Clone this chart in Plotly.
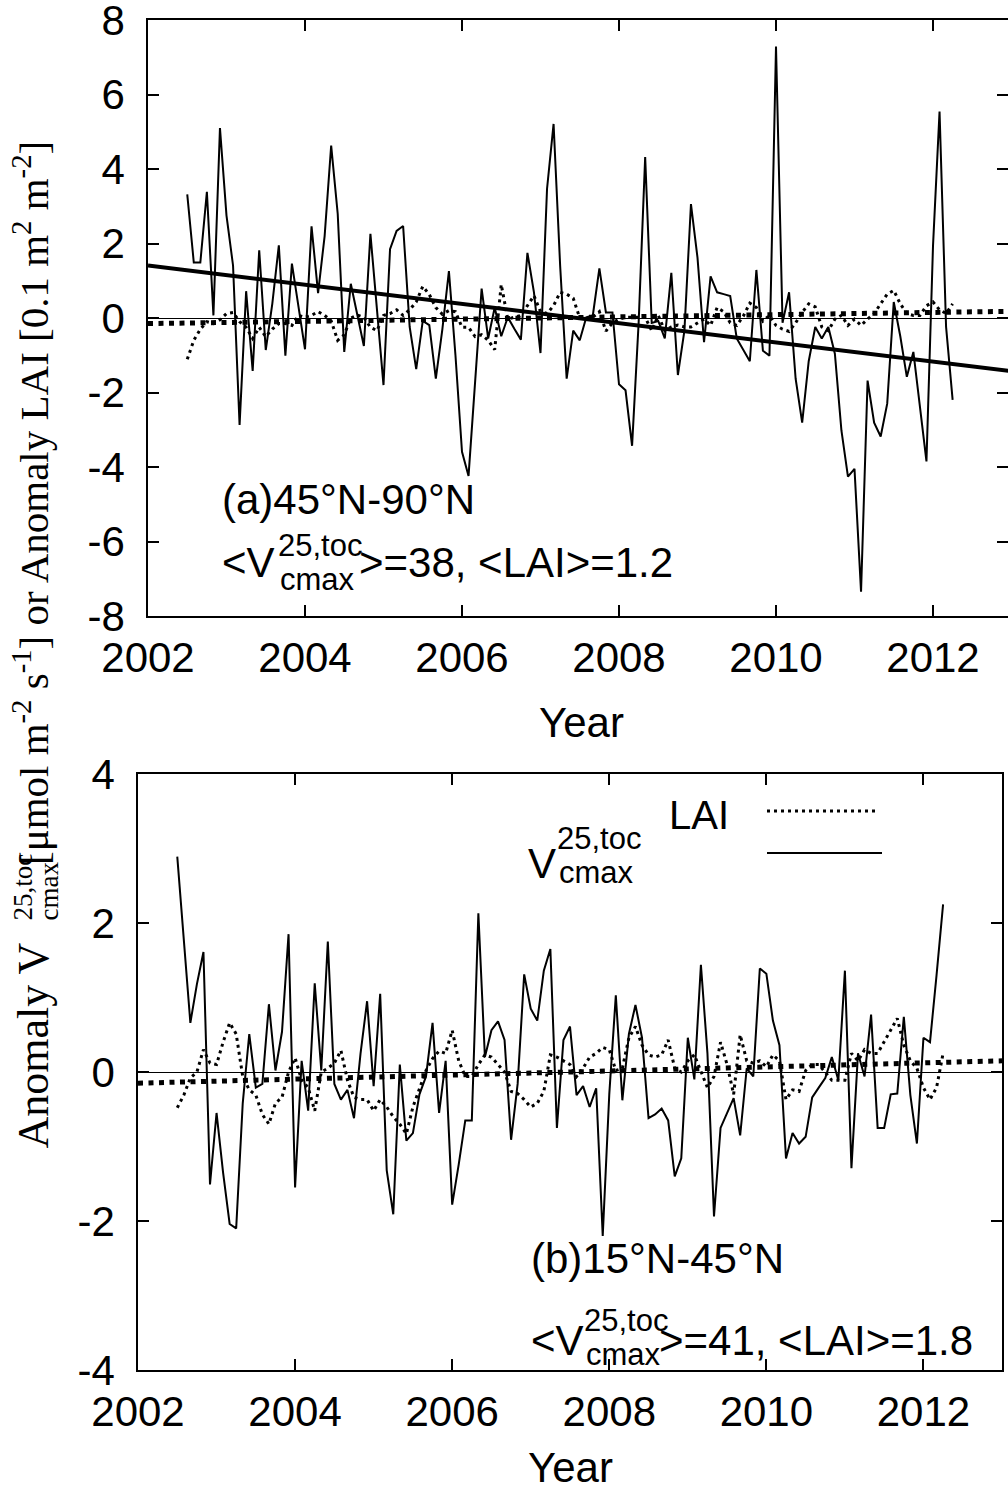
import plotly.graph_objects as go
import pandas as pd

# ---------------- data ----------------
months = pd.period_range("2002-07", "2012-04", freq="M")
t = [p.year + (p.month - 1) / 12 for p in months]

vc_a = [3.32, 1.49, 1.49, 3.39, 0.07, 5.10, 2.75, 1.41, -2.87, 0.72,
        -1.42, 1.82, -0.86, 0.38, 1.95, -1.01, 1.46, 0.28, -0.84, 2.46,
        0.67, 2.2, 4.63, 2.8, -0.91, 0.92, 0.07, -0.75, 2.26, 0.2,
        -1.80, 1.85, 2.34, 2.47, -0.24, -1.37, -0.08, -0.19, -1.63, -0.3,
        1.26, -1.0, -3.59, -4.24, -1.78, 0.79, -0.55, 0.28, -0.49, 0.02,
        -0.29, -0.58, 1.75, 0.69, -0.94, 3.47, 5.21, 1.41, -1.63, -0.34,
        -0.6, 0.02, 0.07, 1.33, 0.15, 0.15, -1.78, -1.94, -3.43, -0.13,
        4.32, -0.13, -0.08, -0.55, 1.21, -1.53, -0.34, 3.06, 1.62, -0.65,
        1.12, 0.69, 0.64, 0.59, -0.55, -0.86, -1.16, 1.29, -0.88, -1.01,
        7.29, -0.13, 0.69, -1.63, -2.81, -1.16, -0.24, -0.55, -0.24, -0.96,
        -3.02, -4.26, -4.05, -7.35, -1.68, -2.81, -3.18, -2.3, 0.43, -0.49,
        -1.58, -0.91, -2.40, -3.85, 1.93, 5.54, -0.24, -2.2]

lai_a = [-1.11, -0.6, -0.3, -0.1, -0.15, -0.05, 0.12, 0.15, -0.1, -0.25,
         -0.55, -0.25, -0.5, -0.3, -0.15, -0.15, -0.2, 0.07, 0.02, 0.07,
         0.17, 0.07, -0.08, -0.6, -0.45, 0.0, 0.08, 0.02, -0.25, -0.34,
         0.07, 0.12, 0.22, 0.07, 0.22, 0.43, 0.85, 0.63, 0.28, 0.1,
         0.2, 0.17, -0.25, -0.25, -0.5, -0.45, -0.6, -0.85, 0.9, -0.03,
         0.02, 0.07, 0.33, 0.6, 0.17, 0.12, 0.33, 0.69, 0.64, 0.53,
         0.0, -0.03, 0.02, 0.17, -0.35, -0.13, -0.03, 0.02, 0.02, 0.02,
         0.02, -0.34, 0.07, -0.34, -0.24, -0.19, -0.24, -0.24, -0.13, -0.03,
         -0.2, 0.28, 0.17, -0.13, -0.2, 0.05, 0.4, 0.28, -0.08, 0.07,
         -0.2, -0.3, -0.36, -0.13, 0.15, 0.38, 0.3, -0.24, -0.34, -0.03,
         0.07, -0.2, -0.03, -0.2, -0.03, 0.12, 0.38, 0.64, 0.74, 0.38,
         0.12, 0.07, 0.07, 0.33, 0.43, 0.22, 0.12, 0.38]

vc_b = [2.89, 1.8, 0.66, 1.18, 1.61, -1.51, -0.55, -1.35, -2.04, -2.1,
        -0.42, 0.51, -0.21, -0.16, 0.91, 0.02, 0.54, 1.85, -1.55, 0.15,
        -0.52, 1.19, 0.02, 1.75, -0.16, -0.37, -0.24, -0.62, 0.25, 0.95,
        -0.19, 1.05, -1.32, -1.91, 0.1, -0.92, -0.82, -0.3, -0.06, 0.66,
        -0.55, 0.15, -1.78, -1.24, -0.65, -0.65, 2.13, 0.2, 0.56, 0.68,
        0.43, -0.91, -0.16, 1.31, 0.85, 0.69, 1.36, 1.65, -0.75, 0.43,
        0.61, -0.31, -0.19, -0.47, -0.22, -2.2, -0.3, 1.03, -0.38, 0.51,
        0.9, 0.46, -0.62, -0.57, -0.49, -0.65, -1.4, -1.16, 0.46, -0.1,
        1.44, 0.25, -1.94, -0.75, -0.55, -0.35, -0.85, 0.05, -0.06, 1.39,
        1.32, 0.69, 0.36, -1.16, -0.82, -0.96, -0.87, -0.34, -0.21, -0.08,
        0.2, -0.11, 1.36, -1.29, 0.25, -0.06, 0.77, -0.75, -0.75, -0.3,
        -0.29, 0.74, -0.31, -0.96, 0.46, 0.4, 1.3, 2.25]

lai_b = [-0.48, -0.31, -0.08, 0.0, 0.3, 0.12, 0.1, 0.4, 0.66, 0.51,
         -0.06, -0.24, -0.31, -0.57, -0.7, -0.42, -0.34, 0.0, 0.19, -0.11,
         -0.21, -0.52, 0.0, 0.05, 0.12, 0.29, -0.11, -0.34, -0.37, -0.37,
         -0.52, -0.37, -0.47, -0.6, -0.7, -0.83, -0.47, -0.21, 0.02, 0.18,
         0.28, 0.25, 0.56, 0.15, -0.06, -0.06, 0.1, 0.23, 0.2, 0.1,
         0.0, -0.26, -0.29, -0.37, -0.47, -0.42, -0.26, 0.23, 0.2, 0.15,
         0.1, -0.06, 0.05, 0.2, 0.25, 0.33, 0.3, 0.02, 0.05, 0.46,
         0.61, 0.36, 0.23, 0.2, 0.23, 0.43, 0.05, 0.0, 0.15, 0.23,
         0.02, -0.21, -0.06, 0.4, 0.1, -0.3, 0.5, 0.15, 0.12, 0.15,
         0.07, 0.23, 0.15, -0.37, -0.24, -0.26, 0.02, 0.1, 0.1, 0.0,
         -0.11, -0.11, -0.11, 0.25, 0.15, 0.3, 0.25, 0.25, 0.41, 0.56,
         0.72, 0.36, 0.15, 0.05, -0.21, -0.37, -0.21, 0.25]

trend_x = [2002, 2013]
trend_vc_a = [1.41, -1.43]
trend_lai_a = [-0.15, 0.18]
trend_lai_b = [-0.15, 0.15]

x_ticks = [2002, 2004, 2006, 2008, 2010, 2012]
y_ticks_a = [-8, -6, -4, -2, 0, 2, 4, 6, 8]
y_ticks_b = [-4, -2, 0, 2, 4]

# ---------------- layout helpers ----------------
W, H = 1008, 1494
def px(x):
    return x / W
def py(y):
    return (H - y) / H

SANS = "Liberation Sans, Arial, sans-serif"
SERIF = "Liberation Serif, Times New Roman, serif"
DOT = "3px,4px"
BIGDOT = "5px,5.5px"

fig = go.Figure()

# panel (a)
fig.add_trace(go.Scatter(x=t, y=lai_a, mode="lines", xaxis="x", yaxis="y",
                         line=dict(color="black", width=3, dash=DOT)))
fig.add_trace(go.Scatter(x=t, y=vc_a, mode="lines", xaxis="x", yaxis="y",
                         line=dict(color="black", width=2)))
fig.add_trace(go.Scatter(x=trend_x, y=trend_lai_a, mode="lines", xaxis="x", yaxis="y",
                         line=dict(color="black", width=5, dash=BIGDOT)))
fig.add_trace(go.Scatter(x=trend_x, y=trend_vc_a, mode="lines", xaxis="x", yaxis="y",
                         line=dict(color="black", width=4)))
# panel (b)
fig.add_trace(go.Scatter(x=t, y=lai_b, mode="lines", xaxis="x2", yaxis="y2",
                         line=dict(color="black", width=3, dash=DOT)))
fig.add_trace(go.Scatter(x=t, y=vc_b, mode="lines", xaxis="x2", yaxis="y2",
                         line=dict(color="black", width=2)))
fig.add_trace(go.Scatter(x=trend_x, y=trend_lai_b, mode="lines", xaxis="x2", yaxis="y2",
                         line=dict(color="black", width=5, dash=BIGDOT)))

def ax_common():
    return dict(ticks="inside", ticklen=11, tickwidth=1.5, tickcolor="black",
                showline=True, linecolor="black", linewidth=1.5, mirror="ticks",
                showgrid=False, automargin=False, ticklabeloverflow="allow",
                tickfont=dict(family=SANS, size=42, color="black"))

xa = ax_common()
xa.update(domain=[px(148), 1.0], range=[2002, 2002 + (1008 - 148) / 78.5],
          tickvals=x_ticks, ticktext=[str(v) for v in x_ticks], zeroline=False,
          anchor="y", ticklabelstandoff=4)
ya = ax_common()
ya.update(domain=[py(616), py(20)], range=[-8, 8], tickvals=y_ticks_a,
          ticktext=[str(v) for v in y_ticks_a], zeroline=True, zerolinecolor="black",
          zerolinewidth=1.2, anchor="x", ticklabelstandoff=13)
xb = ax_common()
xb.update(domain=[px(138), px(1002)], range=[2002, 2013], tickvals=x_ticks,
          ticktext=[str(v) for v in x_ticks], zeroline=False, anchor="y2",
          ticklabelstandoff=4)
yb = ax_common()
yb.update(domain=[py(1370), py(774)], range=[-4, 4], tickvals=y_ticks_b,
          ticktext=[str(v) for v in y_ticks_b], zeroline=True, zerolinecolor="black",
          zerolinewidth=1.2, anchor="x2", ticklabelstandoff=13)

ann = []
def txt(x, y, s, size=42, xanchor="left", yanchor="middle", family=SANS, angle=0):
    ann.append(dict(x=px(x), y=py(y), xref="paper", yref="paper", text=s,
                    showarrow=False, xanchor=xanchor, yanchor=yanchor, textangle=angle,
                    borderpad=0, font=dict(family=family, size=size, color="black")))

# x-axis titles
txt(581, 722, "Year", xanchor="center")
txt(570, 1467, "Year", xanchor="center")

# panel (a) labels
txt(221, 499, "(a)45°N-90°N")
txt(221, 562, "&lt;V")
txt(277, 545, "25,toc", size=31)
txt(279, 579, "cmax", size=31)
txt(358, 562, "&gt;=38, &lt;LAI&gt;=1.2")

# panel (b) labels
txt(530, 1258, "(b)15°N-45°N")
txt(530, 1340, "&lt;V")
txt(583, 1320, "25,toc", size=31)
txt(585, 1354, "cmax", size=31)
txt(658, 1340, "&gt;=41, &lt;LAI&gt;=1.8")

# legend
txt(668, 815, "LAI", size=40)
txt(527, 863, "V", size=42)
txt(556, 838, "25,toc", size=31)
txt(558, 873, "cmax", size=31)

# y-axis title (rotated, pieces)
txt(58, 1150, "Anomaly V", size=44, family=SERIF, xanchor="right", yanchor="bottom", angle=-90)
txt(22, 922, "25,toc", size=27, family=SERIF, xanchor="center", yanchor="bottom", angle=-90)
txt(48, 922, "cmax", size=27, family=SERIF, xanchor="center", yanchor="bottom", angle=-90)
txt(58, 866, "[μmol m<sup>-2</sup> s<sup>-1</sup>] or Anomaly LAI [0.1 m<sup>2</sup> m<sup>-2</sup>]",
    size=41, family=SERIF, xanchor="right", yanchor="bottom", angle=-90)

shapes = [
    dict(type="line", xref="paper", yref="paper", x0=px(767), x1=px(877), y0=py(811), y1=py(811),
         line=dict(color="black", width=3, dash=DOT)),
    dict(type="line", xref="paper", yref="paper", x0=px(767), x1=px(882), y0=py(853), y1=py(853),
         line=dict(color="black", width=2)),
]

fig.update_layout(
    width=W, height=H, margin=dict(l=0, r=0, t=0, b=0, autoexpand=False),
    paper_bgcolor="white", plot_bgcolor="white", showlegend=False,
    xaxis=xa, yaxis=ya, xaxis2=xb, yaxis2=yb,
    annotations=ann, shapes=shapes,
)

fig.write_html("out.html")
